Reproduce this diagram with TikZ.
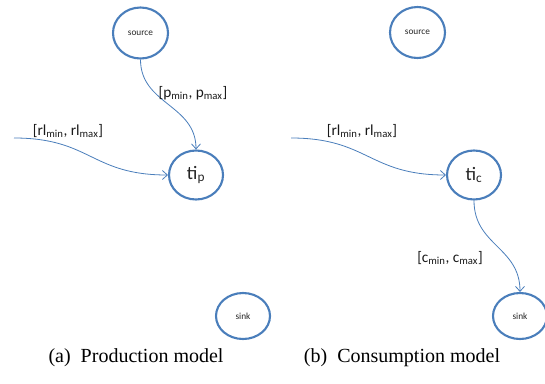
\documentclass[tikz,border=0pt]{standalone}
\usepackage{fontspec}
\setmainfont{Carlito}
\newfontfamily\capfont{Liberation Serif}
\usetikzlibrary{shapes.geometric,arrows.meta}
\definecolor{obl}{RGB}{74,126,187}
\newcommand\sbs[1]{\textsubscript{#1}}
\begin{document}
\begin{tikzpicture}[x=1pt,y=-1pt,
  st/.style={ellipse,draw=obl,line width=2.1pt,minimum width=54pt,minimum height=49pt,inner sep=0pt,text=black!85},
  smalltxt/.style={font=\fontsize{9.3}{10}\selectfont},
  bigtxt/.style={font=\fontsize{19}{21}\selectfont},
  conn/.style={draw=obl,line width=0.8pt,-{Straight Barb[length=5pt,width=9pt]}},
  lab/.style={font=\fontsize{15.3}{17}\selectfont,text=black!90,inner sep=0pt},
  captxt/.style={font=\capfont\fontsize{20}{22}\selectfont,inner sep=0pt}]
\useasboundingbox (0,0) rectangle (545,383);
% left panel
\node[st,smalltxt,minimum width=55pt,minimum height=51pt] (srcA) at (140.5,33) {source};
\node[st,bigtxt] (tip) at (196,175) {ti\sbs{p}};
\node[st,smalltxt,minimum height=46pt] (sinkA) at (243,316) {sink};
\coordinate (inA) at (14,138);
\draw[conn] (srcA.south) .. controls +(0,45) and +(0,-45) .. (tip.north);
\draw[conn] (inA) .. controls +(77,0) and +(-77,0) .. (tip.west);
\node[lab] (lpA) at (193,93) {[p\sbs{min}, p\sbs{max}]};
\node[lab] (lrA) at (68,131) {[rl\sbs{min}, rl\sbs{max}]};
% right panel
\node[st,smalltxt,minimum width=55pt,minimum height=51pt] (srcB) at (417.5,32.5) {source};
\node[st,bigtxt] (tic) at (474,175) {ti\sbs{c}};
\node[st,smalltxt,minimum height=46pt] (sinkB) at (520,316) {sink};
\coordinate (inB) at (291,138);
\draw[conn] (inB) .. controls +(77,0) and +(-77,0) .. (tic.west);
\draw[conn] (tic.south) .. controls +(0,45) and +(0,-45) .. (sinkB.north);
\node[lab] (lrB) at (362,131) {[rl\sbs{min}, rl\sbs{max}]};
\node[lab] (lcB) at (450,258) {[c\sbs{min}, c\sbs{max}]};
% captions
\node[captxt] (capA) at (136,358) {(a)\ \ Production model};
\node[captxt] (capB) at (402,358) {(b)\ \ Consumption model};
\end{tikzpicture}
\end{document}
